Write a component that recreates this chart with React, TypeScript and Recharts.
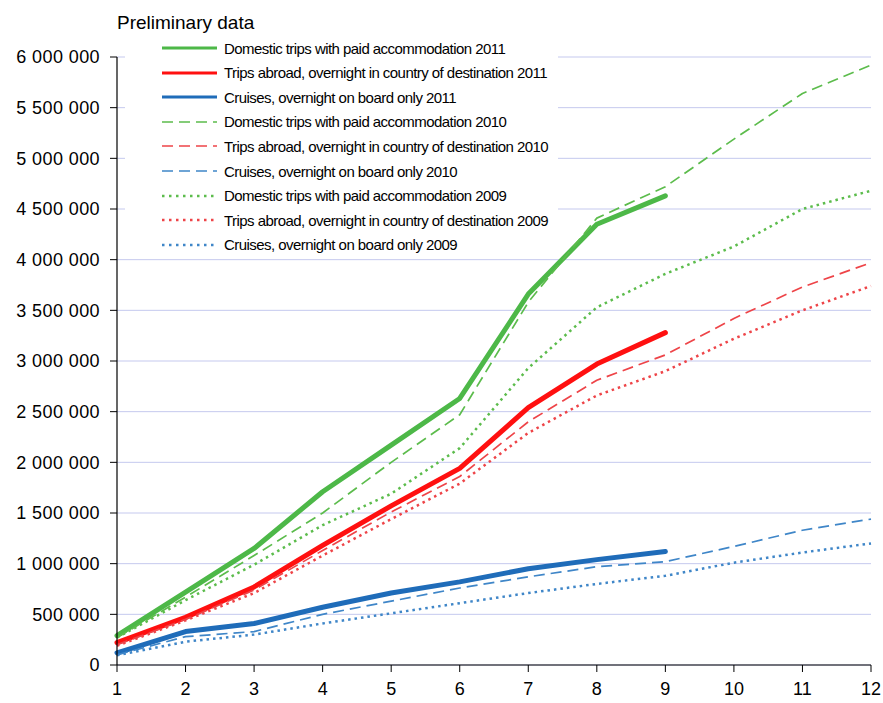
import React from 'react';
import { LineChart, Line, XAxis, YAxis, CartesianGrid } from 'recharts';

const months = [1, 2, 3, 4, 5, 6, 7, 8, 9, 10, 11, 12];
const yTicks = [0, 500000, 1000000, 1500000, 2000000, 2500000, 3000000, 3500000, 4000000, 4500000, 5000000, 5500000, 6000000];

const domestic2011 = [290000, 720000, 1150000, 1710000, 2170000, 2630000, 3660000, 4350000, 4630000];
const abroad2011 = [220000, 470000, 770000, 1180000, 1570000, 1940000, 2540000, 2970000, 3280000];
const cruises2011 = [120000, 330000, 410000, 570000, 710000, 820000, 950000, 1040000, 1120000];
const domestic2010 = [270000, 670000, 1080000, 1500000, 2000000, 2470000, 3580000, 4410000, 4720000, 5190000, 5640000, 5920000];
const abroad2010 = [200000, 450000, 740000, 1130000, 1510000, 1860000, 2400000, 2810000, 3060000, 3420000, 3730000, 3970000];
const cruises2010 = [100000, 280000, 330000, 500000, 630000, 760000, 870000, 970000, 1020000, 1170000, 1330000, 1440000];
const domestic2009 = [270000, 640000, 990000, 1380000, 1690000, 2140000, 2930000, 3530000, 3860000, 4130000, 4500000, 4680000];
const abroad2009 = [190000, 440000, 710000, 1080000, 1440000, 1790000, 2290000, 2660000, 2900000, 3220000, 3500000, 3740000];
const cruises2009 = [95000, 230000, 300000, 410000, 510000, 610000, 710000, 800000, 880000, 1010000, 1110000, 1200000];

const GREEN = '#4DB848';
const RED = '#FF1010';
const BLUE = '#1F6CB9';
const GREEN_L = '#5CBC4C';
const RED_L = '#EE4448';
const BLUE_L = '#3F86C8';

type Style = 'solid' | 'dash' | 'dot';

const series: { key: string; name: string; values: number[]; color: string; style: Style }[] = [
  { key: 'd11', name: 'Domestic trips with paid accommodation 2011', values: domestic2011, color: GREEN, style: 'solid' },
  { key: 'r11', name: 'Trips abroad, overnight in country of destination 2011', values: abroad2011, color: RED, style: 'solid' },
  { key: 'c11', name: 'Cruises, overnight on board only 2011', values: cruises2011, color: BLUE, style: 'solid' },
  { key: 'd10', name: 'Domestic trips with paid accommodation 2010', values: domestic2010, color: GREEN_L, style: 'dash' },
  { key: 'r10', name: 'Trips abroad, overnight in country of destination 2010', values: abroad2010, color: RED_L, style: 'dash' },
  { key: 'c10', name: 'Cruises, overnight on board only 2010', values: cruises2010, color: BLUE_L, style: 'dash' },
  { key: 'd09', name: 'Domestic trips with paid accommodation 2009', values: domestic2009, color: GREEN_L, style: 'dot' },
  { key: 'r09', name: 'Trips abroad, overnight in country of destination 2009', values: abroad2009, color: RED_L, style: 'dot' },
  { key: 'c09', name: 'Cruises, overnight on board only 2009', values: cruises2009, color: BLUE_L, style: 'dot' },
];

const data = months.map((m, i) => {
  const row: Record<string, number | undefined> = { m };
  series.forEach((s) => {
    row[s.key] = i < s.values.length ? s.values[i] : undefined;
  });
  return row;
});

const styleProps = (st: Style) => {
  if (st === 'solid') return { strokeWidth: 5, strokeDasharray: undefined as string | undefined };
  if (st === 'dash') return { strokeWidth: 1.7, strokeDasharray: '11 6' };
  return { strokeWidth: 2.5, strokeDasharray: '2.5 4' };
};

const legendProps = (st: Style) => {
  if (st === 'solid') return { strokeWidth: 3, strokeDasharray: undefined as string | undefined };
  if (st === 'dash') return { strokeWidth: 1.7, strokeDasharray: '11 6' };
  return { strokeWidth: 2.5, strokeDasharray: '2.5 4.5' };
};

const fmt = (v: number) => String(v).replace(/\B(?=(\d{3})+(?!\d))/g, ' ');

const FONT = '"Liberation Sans", Arial, sans-serif';

export default function App() {
  return (
    <div style={{ position: 'absolute', left: 0, top: 0, width: 883, height: 703, background: '#fff', fontFamily: FONT }}>
      <LineChart width={883} height={703} data={data} margin={{ top: 57, right: 12, bottom: 0, left: 0 }}>
        <CartesianGrid horizontal vertical={false} stroke="#C5C9EE" strokeWidth={1} />
        <XAxis
          dataKey="m"
          type="number"
          domain={[1, 12]}
          ticks={months}
          height={38}
          tickSize={7}
          tickMargin={10}
          axisLine={{ stroke: '#000', strokeWidth: 1.2 }}
          tickLine={{ stroke: '#000' }}
          tick={{ fill: '#000', fontSize: 18, fontFamily: FONT }}
        />
        <YAxis
          type="number"
          domain={[0, 6000000]}
          ticks={yTicks}
          width={117}
          tickSize={7}
          tickMargin={10}
          tickFormatter={fmt}
          axisLine={{ stroke: '#000', strokeWidth: 1.2 }}
          tickLine={{ stroke: '#000' }}
          tick={{ fill: '#000', fontSize: 18, fontFamily: FONT, letterSpacing: '0.4px' }}
        />
        {series.map((s) => {
          const p = styleProps(s.style);
          return (
            <Line
              key={s.key}
              dataKey={s.key}
              name={s.name}
              stroke={s.color}
              strokeWidth={p.strokeWidth}
              strokeDasharray={p.strokeDasharray}
              strokeLinejoin="round"
              strokeLinecap={s.style === 'solid' ? 'round' : 'butt'}
              dot={false}
              activeDot={false}
              isAnimationActive={false}
              type="linear"
            />
          );
        })}
      </LineChart>
      <div style={{ position: 'absolute', left: 117, top: 13, fontSize: 19, lineHeight: '19px', color: '#000' }}>
        Preliminary data
      </div>
      <div style={{ position: 'absolute', left: 125, top: 34, width: 433, height: 222, background: '#fff' }}>
        {series.map((s, i) => {
          const p = legendProps(s.style);
          return (
            <div key={s.key} style={{ position: 'absolute', left: 0, top: 2 + i * 24.6, height: 24, display: 'flex', alignItems: 'center' }}>
              <svg width={62} height={10} style={{ marginLeft: 37, display: 'block' }}>
                <line x1={0} y1={5} x2={55} y2={5} stroke={s.color} strokeWidth={p.strokeWidth} strokeDasharray={p.strokeDasharray} />
              </svg>
              <span style={{ fontSize: 15, letterSpacing: '-0.55px', color: '#000', whiteSpace: 'nowrap', marginLeft: 0 }}>{s.name}</span>
            </div>
          );
        })}
      </div>
    </div>
  );
}
